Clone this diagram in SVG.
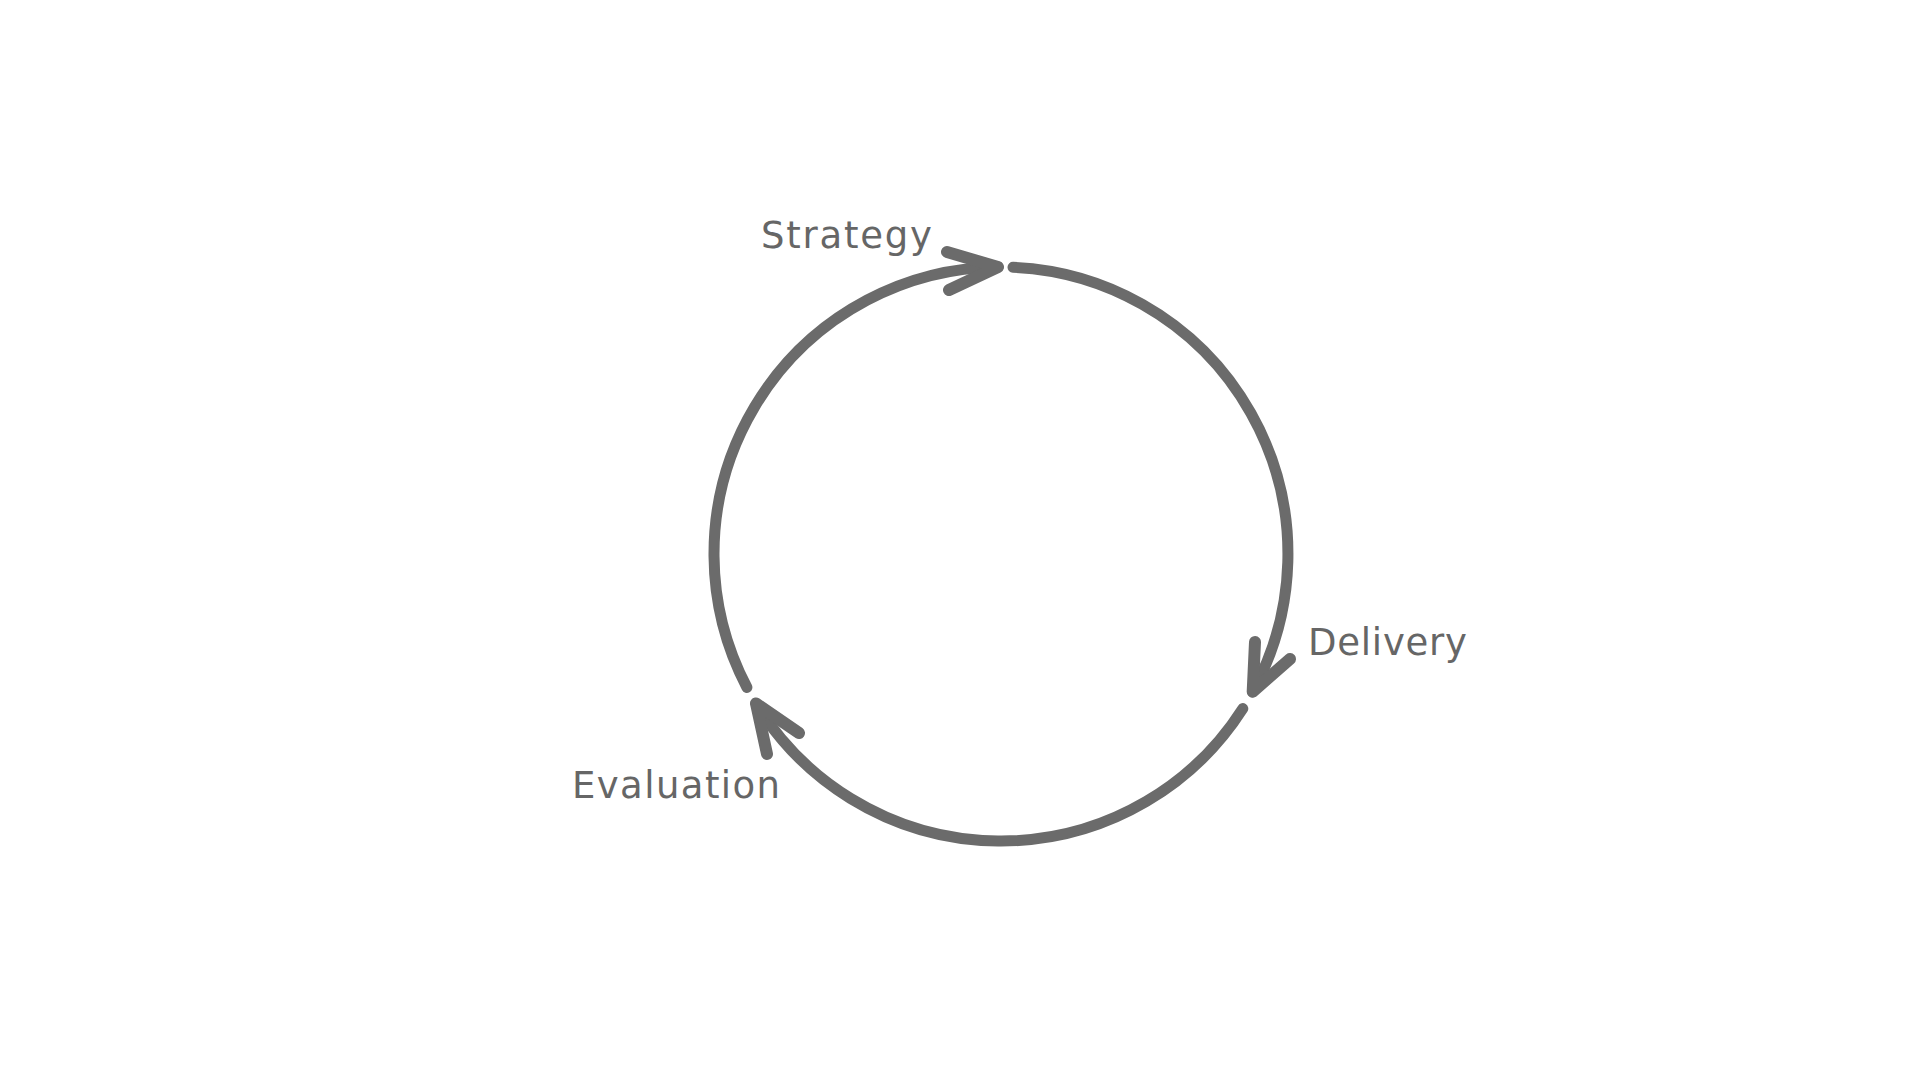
<svg xmlns="http://www.w3.org/2000/svg" width="1920" height="1080" viewBox="0 0 1920 1080">
<style>
.arc{fill:none;stroke:#6b6b6b;stroke-width:11;stroke-linecap:round;stroke-linejoin:round}
.head{stroke-width:12}
.lbl{font-family:"DejaVu Sans","Open Sans",sans-serif;font-size:37px;fill:#666666}
</style>
<rect width="1920" height="1080" fill="#ffffff"/>
<g id="connectors">
<path class="arc" d="M1013,267.3 A287,287 0 0 1 1252.7,691.8"/>
<polyline class="arc head" points="1255,642 1252.7,691.8 1290,659"/>
<path class="arc" d="M1242.8,708.6 A287,287 0 0 1 756,703.5"/>
<polyline class="arc head" points="799,733 756,703.5 767,754"/>
<path class="arc" d="M746.9,687.4 A287,287 0 0 1 998,267"/>
<polyline class="arc head" points="947,252 998,267 949,290"/>
</g>
<g id="node-strategy"><text class="lbl" x="761" y="248" textLength="171">Strategy</text></g>
<g id="node-delivery"><text class="lbl" x="1308" y="655" textLength="159">Delivery</text></g>
<g id="node-evaluation"><text class="lbl" x="572" y="798" textLength="208">Evaluation</text></g>
</svg>
